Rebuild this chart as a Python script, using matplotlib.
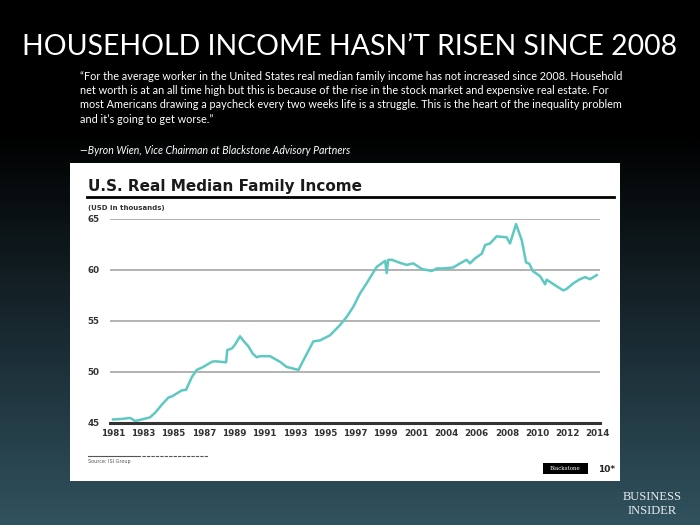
import matplotlib.pyplot as plt
from matplotlib.patches import Rectangle
import numpy as np

# Data (x = position along the category axis, 0 = 1981 label)
tick_labels = ['1981', '1983', '1985', '1987', '1989', '1991', '1993', '1995', '1997',
               '1999', '2001', '2004', '2006', '2008', '2010', '2012', '2014']
x_pos = [0.0, 0.30, 0.56, 0.73, 0.95, 1.22, 1.39, 1.61, 1.83, 1.94, 2.27, 2.41, 2.60,
         2.76, 2.98, 3.26, 3.37, 3.73, 3.77, 3.92, 4.03, 4.19, 4.32, 4.47, 4.61, 4.74,
         4.85, 5.18, 5.51, 5.73, 6.12, 6.23, 6.61, 6.83, 7.16, 7.49, 7.71, 7.93, 8.15,
         8.37, 8.70, 8.98, 9.03, 9.08, 9.20, 9.47, 9.69, 9.91, 10.19, 10.52, 10.68,
         10.90, 11.23, 11.45, 11.67, 11.78, 11.95, 12.17, 12.28, 12.44, 12.66, 12.99,
         13.10, 13.30, 13.49, 13.63, 13.74, 13.85, 14.09, 14.26, 14.31, 14.59, 14.86,
         14.97, 15.19, 15.41, 15.58, 15.74, 15.96]
income = [45.35, 45.4, 45.5, 45.2, 45.35, 45.55, 46.0, 46.8, 47.5, 47.6, 48.2, 48.25,
          49.5, 50.2, 50.5, 51.0, 51.05, 50.95, 52.15, 52.3, 52.7, 53.5, 53.0, 52.5,
          51.8, 51.45, 51.55, 51.55, 51.0, 50.5, 50.2, 50.85, 53.0, 53.1, 53.6, 54.6,
          55.4, 56.4, 57.7, 58.7, 60.3, 60.9, 59.7, 61.0, 61.0, 60.7, 60.5, 60.65,
          60.1, 59.9, 60.15, 60.15, 60.25, 60.65, 61.0, 60.65, 61.15, 61.6, 62.45,
          62.6, 63.3, 63.2, 62.6, 64.5, 62.9, 60.75, 60.6, 59.9, 59.4, 58.6, 59.05,
          58.5, 58.0, 58.15, 58.7, 59.1, 59.3, 59.1, 59.5]
y_ticks = [45, 50, 55, 60, 65]

W, H = 700, 525
fig = plt.figure(figsize=(7, 5.25), dpi=100)


def fy(py):
    return 1 - py / H


# background gradient: black at top, dark teal at bottom
bg = fig.add_axes([0, 0, 1, 1])
t = np.clip((np.linspace(0, 1, 256) - 0.25) / 0.75, 0, 1)
top = np.array([0.0, 0.0, 0.0])
bot = np.array([0.19, 0.32, 0.37])
grad = top[None, :] * (1 - t[:, None]) + bot[None, :] * t[:, None]
bg.imshow(np.repeat(grad[:, None, :], 2, axis=1), aspect='auto', extent=[0, 1, 0, 1])
bg.set_xlim(0, 1)
bg.set_ylim(0, 1)
bg.axis('off')

# header
fig.text(0.5, fy(47), 'HOUSEHOLD INCOME HASN\u2019T RISEN SINCE 2008', color='white',
         fontsize=20.4, family='Lato', ha='center', va='center')
quote = ['\u201cFor the average worker in the United States real median family income has not increased since 2008. Household',
         'net worth is at an all time high but this is because of the rise in the stock market and expensive real estate. For',
         'most Americans drawing a paycheck every two weeks life is a struggle. This is the heart of the inequality problem',
         'and it\u2019s going to get worse.\u201d']
for i, line in enumerate(quote):
    fig.text(80 / W, fy(76 + i * 14.5), line, color='white', fontsize=7.8,
             family='Lato', ha='left', va='center')
fig.text(80 / W, fy(151), '\u2014Byron Wien, Vice Chairman at Blackstone Advisory Partners',
         color='white', fontsize=7.6, family='Lato', style='italic', ha='left', va='center')

# white panel
bg.add_patch(Rectangle((70 / W, fy(481)), 550 / W, 318 / H, facecolor='white',
                       edgecolor='none', zorder=2))
fig.text(88 / W, fy(186), 'U.S. Real Median Family Income', fontsize=11,
         fontweight='bold', color='#1a1a1a', ha='left', va='center')
bg.plot([87 / W, 614 / W], [fy(197), fy(197)], color='black', lw=2, zorder=3)
fig.text(88 / W, fy(208), '(USD in thousands)', fontsize=5, fontweight='bold',
         color='#333333', ha='left', va='center')

# chart
ax = fig.add_axes([110 / W, fy(423), 490 / W, 204 / H])
ax.set_facecolor('white')
ax.plot(x_pos, income, color='#5ec9c1', lw=1.8, zorder=3)
ax.set_xlim(-0.1, 16.07)
ax.set_ylim(45, 65)
ax.set_yticks(y_ticks)
ax.set_xticks(range(len(tick_labels)))
ax.set_xticklabels(tick_labels)
for v in y_ticks[1:]:
    ax.axhline(v, color='#acacac', lw=1.3, zorder=1)
ax.axhline(45, color='#333333', lw=2.2, zorder=2, clip_on=False)
for s in ax.spines.values():
    s.set_visible(False)
ax.tick_params(length=0, labelsize=6.3, colors='#333333', pad=4)
ax.tick_params(axis='y', pad=16)
for lb in ax.get_xticklabels() + ax.get_yticklabels():
    lb.set_fontweight('bold')
for lb in ax.get_yticklabels():
    lb.set_ha('left')

# footer of panel
bg.plot([88 / W, 140 / W], [fy(456), fy(456)], color='#555555', lw=0.8, zorder=3)
bg.plot([142 / W, 208 / W], [fy(456), fy(456)], color='#555555', lw=0.8,
        ls=(0, (3, 1)), zorder=3)
fig.text(88 / W, fy(462), 'Source: ISI Group', fontsize=3.5, color='#555555',
         ha='left', va='center')
bg.add_patch(Rectangle((543 / W, fy(474)), 45 / W, 11 / H, facecolor='black',
                       edgecolor='none', zorder=3))
fig.text(565.5 / W, fy(468.5), 'Blackstone', fontsize=4, color='white',
         family='DejaVu Serif', ha='center', va='center')
fig.text(598 / W, fy(469), '10*', fontsize=6.5, fontweight='bold', color='#222222',
         ha='left', va='center')

# logo
fig.text(652 / W, fy(497), 'BUSINESS', fontsize=9, color='#e8eef0',
         family='Liberation Serif', ha='center', va='center')
fig.text(652 / W, fy(511), 'INSIDER', fontsize=9, color='#e8eef0',
         family='Liberation Serif', ha='center', va='center')

fig.savefig('out.png', dpi=100)
